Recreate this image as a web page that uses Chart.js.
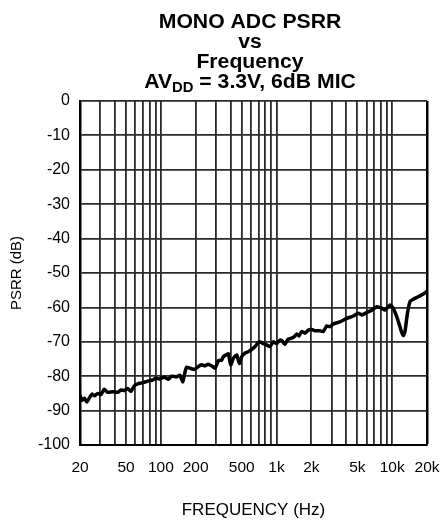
<!DOCTYPE html>
<html>
<head>
<meta charset="utf-8">
<script src="https://cdn.jsdelivr.net/npm/chart.js@4.4.1/dist/chart.umd.min.js"></script>
<style>
  html, body { margin: 0; padding: 0; background: #fff; }
  #wrap { width: 440px; height: 521px; }
</style>
</head>
<body>
<div id="wrap"><canvas id="grafico" width="440" height="521"></canvas></div>
<script>
// Datos
const freqHz = [20, 20.8, 21.8, 22.9, 24.1, 25.4, 26.6, 28.5, 30.4, 32.4, 34.7, 38.4, 42.4, 45.2, 48.3, 51.7, 55.2, 59, 63.1, 67.4,
  74.4, 79.5, 85, 90.8, 97, 107, 116, 124, 137, 146, 155, 162, 167, 179, 197, 211, 226, 241, 257, 275,
  294, 314, 336, 347, 366, 383, 402, 423, 453, 477, 500, 534, 570, 652, 706, 769, 822, 878, 938, 1004,
  1072, 1122, 1184, 1250, 1335, 1425, 1494, 1565, 1651, 1763, 1883, 2014, 2151, 2376, 2538, 2716, 2900, 3097, 3539, 4043,
  4612, 5093, 5450, 6022, 6650, 7346, 8114, 8667, 9572, 10222, 10940, 11520, 12085, 12477, 12906, 13510, 14253, 15220, 16812, 18570,
  20000];
const psrrDb = [-85.5, -87, -86.4, -87.5, -86.3, -85.2, -85.7, -85, -85.3, -83.8, -84.7, -84.5, -84.7, -84, -84.2, -83.6, -84.4, -82.8, -82.2, -82,
  -81.6, -81.3, -81.1, -80.6, -80.8, -80.3, -80.9, -80, -80.2, -79.7, -81.6, -78.7, -77.4, -77.7, -78, -77.2, -76.7, -77, -76.5, -77,
  -77.7, -75.5, -75.3, -74.3, -73.8, -73.5, -76.7, -74.8, -73.8, -76.3, -74.3, -73.3, -72.9, -71.4, -70, -70.5, -70.9, -71.4, -70, -70.5,
  -69.5, -69.8, -70.7, -69.3, -69, -68.5, -67.7, -68.3, -67, -67.5, -66.6, -66.4, -66.8, -66.8, -67, -65.4, -65.6, -64.8, -64.2, -63.2,
  -62.5, -61.7, -62.2, -61.5, -60.8, -59.8, -60.2, -60.8, -59.3, -60.3, -62.7, -65, -67.3, -68.2, -67, -62, -58.3, -57.6, -56.9, -56.1,
  -55.3];

// Líneas de la rejilla y etiquetas del eje X
const xGridTicks = [20, 30, 40, 50, 60, 70, 80, 90, 100, 200, 300, 400, 500, 600, 700, 800, 900,
  1000, 2000, 3000, 4000, 5000, 6000, 7000, 8000, 9000, 10000, 20000];
const xLabelValues = [20, 50, 100, 200, 500, 1000, 2000, 5000, 10000, 20000];
const xLabelText = ['20', '50', '100', '200', '500', '1k', '2k', '5k', '10k', '20k'];

const titleLines = ['MONO ADC PSRR', 'vs', 'Frequency'];
const titleLast = ['AV', 'DD', ' = 3.3V, 6dB MIC'];

const FONT = "'Liberation Sans', Arial, Helvetica, sans-serif";

// Título con subíndice dibujado a mano (un poco ensanchado como en la original)
const tituloPlugin = {
  id: 'tituloPlugin',
  afterDraw(chart) {
    const ctx = chart.ctx;
    const cx = 250;
    ctx.save();
    ctx.translate(cx, 0);
    ctx.scale(1.06, 1);
    ctx.fillStyle = '#000';
    ctx.textBaseline = 'alphabetic';
    ctx.textAlign = 'center';
    ctx.font = 'bold 20px ' + FONT;
    titleLines.forEach((t, i) => ctx.fillText(t, 0, 28 + i * 20));

    // última línea: AV + DD (subíndice) + resto
    const big = 'bold 20px ' + FONT;
    const small = 'bold 14px ' + FONT;
    ctx.font = big;
    const w1 = ctx.measureText(titleLast[0]).width;
    const w3 = ctx.measureText(titleLast[2]).width;
    ctx.font = small;
    const w2 = ctx.measureText(titleLast[1]).width;
    let x = -(w1 + w2 + w3) / 2;
    ctx.textAlign = 'left';
    ctx.font = big;
    ctx.fillText(titleLast[0], x, 88);
    x += w1;
    ctx.font = small;
    ctx.fillText(titleLast[1], x, 92);
    x += w2;
    ctx.font = big;
    ctx.fillText(titleLast[2], x, 88);
    ctx.restore();
  }
};

const ctx = document.getElementById('grafico').getContext('2d');
new Chart(ctx, {
  type: 'line',
  data: {
    datasets: [{
      label: 'PSRR',
      data: freqHz.map((f, i) => ({ x: f, y: psrrDb[i] })),
      borderColor: '#000',
      borderWidth: 3.5,
      pointRadius: 0,
      tension: 0.15,
      fill: false
    }]
  },
  options: {
    responsive: false,
    animation: false,
    events: [],
    layout: { padding: { top: 101, right: 13, left: 0, bottom: 0 } },
    plugins: {
      legend: { display: false },
      tooltip: { enabled: false },
      title: { display: false }
    },
    scales: {
      x: {
        type: 'logarithmic',
        min: 20,
        max: 20000,
        afterBuildTicks: function (scale) {
          scale.ticks = xGridTicks.map(v => ({ value: v }));
        },
        afterFit: function (scale) {
          scale.height = 76;
          // sin margen extra por las etiquetas de los extremos
          scale.paddingLeft = 0;
          scale.paddingRight = 0;
        },
        ticks: {
          autoSkip: false,
          maxRotation: 0,
          padding: 13,
          color: '#000',
          font: { family: FONT, size: 15.5 },
          callback: function (value) {
            const i = xLabelValues.indexOf(value);
            return i >= 0 ? xLabelText[i] : '';
          }
        },
        grid: {
          drawTicks: false,
          color: c => (c.tick && c.tick.value === 20000) ? '#000' : '#2a2a2a',
          lineWidth: c => (c.tick && c.tick.value === 20000) ? 2.5 : 1.8
        },
        border: { color: '#000', width: 2 },
        title: {
          display: true,
          text: 'FREQUENCY (Hz)',
          color: '#000',
          font: { family: FONT, size: 17 },
          padding: { top: 0, bottom: 0 }
        }
      },
      y: {
        min: -100,
        max: 0,
        afterFit: function (scale) { scale.width = 80; },
        ticks: {
          stepSize: 10,
          padding: 10,
          color: '#000',
          font: { family: FONT, size: 16 }
        },
        grid: {
          drawTicks: false,
          color: '#2a2a2a',
          lineWidth: 1.8
        },
        border: { color: '#000', width: 2.5 },
        title: {
          display: true,
          text: 'PSRR (dB)',
          color: '#000',
          font: { family: FONT, size: 15 },
          padding: { top: 8, bottom: 0 }
        }
      }
    }
  },
  plugins: [tituloPlugin]
});
</script>
</body>
</html>
